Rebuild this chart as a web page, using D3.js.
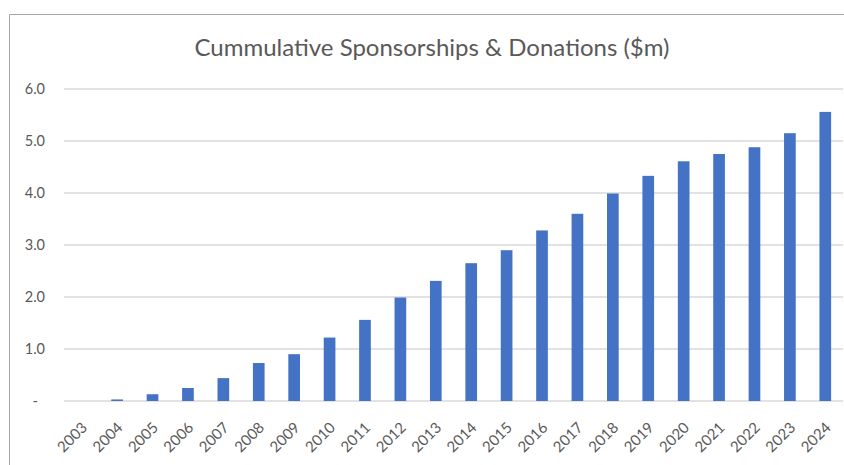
<!DOCTYPE html>
<html>
<head>
<meta charset="utf-8">
<script src="https://cdn.jsdelivr.net/npm/d3@7"></script>
<style>
  body { margin: 0; background: #fff; }
  text { font-family: Lato, "Open Sans", sans-serif; fill: #595959; }
</style>
</head>
<body>
<div id="chart"></div>
<script>
var years = ["2003","2004","2005","2006","2007","2008","2009","2010","2011","2012","2013",
             "2014","2015","2016","2017","2018","2019","2020","2021","2022","2023","2024"];
var values = [0, 0.03, 0.13, 0.25, 0.44, 0.73, 0.90, 1.22, 1.56, 1.99, 2.31,
              2.65, 2.90, 3.28, 3.60, 3.99, 4.33, 4.61, 4.75, 4.88, 5.15, 5.56];
var yTicks = [0, 1, 2, 3, 4, 5, 6];
var title = "Cummulative Sponsorships & Donations ($m)";

var width = 844, height = 465;
var margin = {top: 89, right: 1, bottom: 64, left: 64};

var svg = d3.select("#chart").append("svg")
    .attr("width", width)
    .attr("height", height);

// chart frame (cropped Excel chart, right/bottom edges off-screen)
svg.append("path")
    .attr("d", "M9.5," + height + "V14.5H" + width)
    .attr("fill", "none")
    .attr("stroke", "#a6a6a6")
    .attr("stroke-width", 1);

svg.append("text")
    .attr("x", 432)
    .attr("y", 56)
    .attr("text-anchor", "middle")
    .style("font-size", "24px")
    .text(title);

var x = d3.scaleBand()
    .domain(years)
    .range([margin.left, width - margin.right])
    .paddingInner(0.67)
    .paddingOuter(0.335);

var y = d3.scaleLinear()
    .domain([0, 6])
    .range([height - margin.bottom, margin.top]);

// gridlines
svg.append("g")
    .selectAll("line")
    .data(yTicks)
    .enter().append("line")
    .attr("x1", margin.left)
    .attr("x2", width - margin.right)
    .attr("y1", function(d) { return y(d); })
    .attr("y2", function(d) { return y(d); })
    .attr("stroke", "#d9d9d9")
    .attr("stroke-width", 1.3);

// y axis labels
svg.append("g")
    .selectAll("text")
    .data(yTicks)
    .enter().append("text")
    .attr("x", function(d) { return d === 0 ? 38 : 45; })
    .attr("y", function(d) { return y(d); })
    .attr("dy", "0.35em")
    .attr("text-anchor", "end")
    .style("font-size", "14.5px")
    .text(function(d) { return d === 0 ? "-" : d3.format(".1f")(d); });

// bars
svg.append("g")
    .selectAll("rect")
    .data(values)
    .enter().append("rect")
    .attr("x", function(d, i) { return x(years[i]); })
    .attr("width", x.bandwidth())
    .attr("y", function(d) { return y(d); })
    .attr("height", function(d) { return y(0) - y(d); })
    .attr("fill", "#4472c4");

// x axis labels, rotated
svg.append("g")
    .selectAll("text")
    .data(years)
    .enter().append("text")
    .attr("transform", function(d) {
        return "translate(" + (x(d) + x.bandwidth() / 2 - 1) + "," + 421 + ") rotate(-45)";
    })
    .attr("text-anchor", "end")
    .attr("dy", "0.71em")
    .style("font-size", "15px")
    .text(function(d) { return d; });
</script>
</body>
</html>
